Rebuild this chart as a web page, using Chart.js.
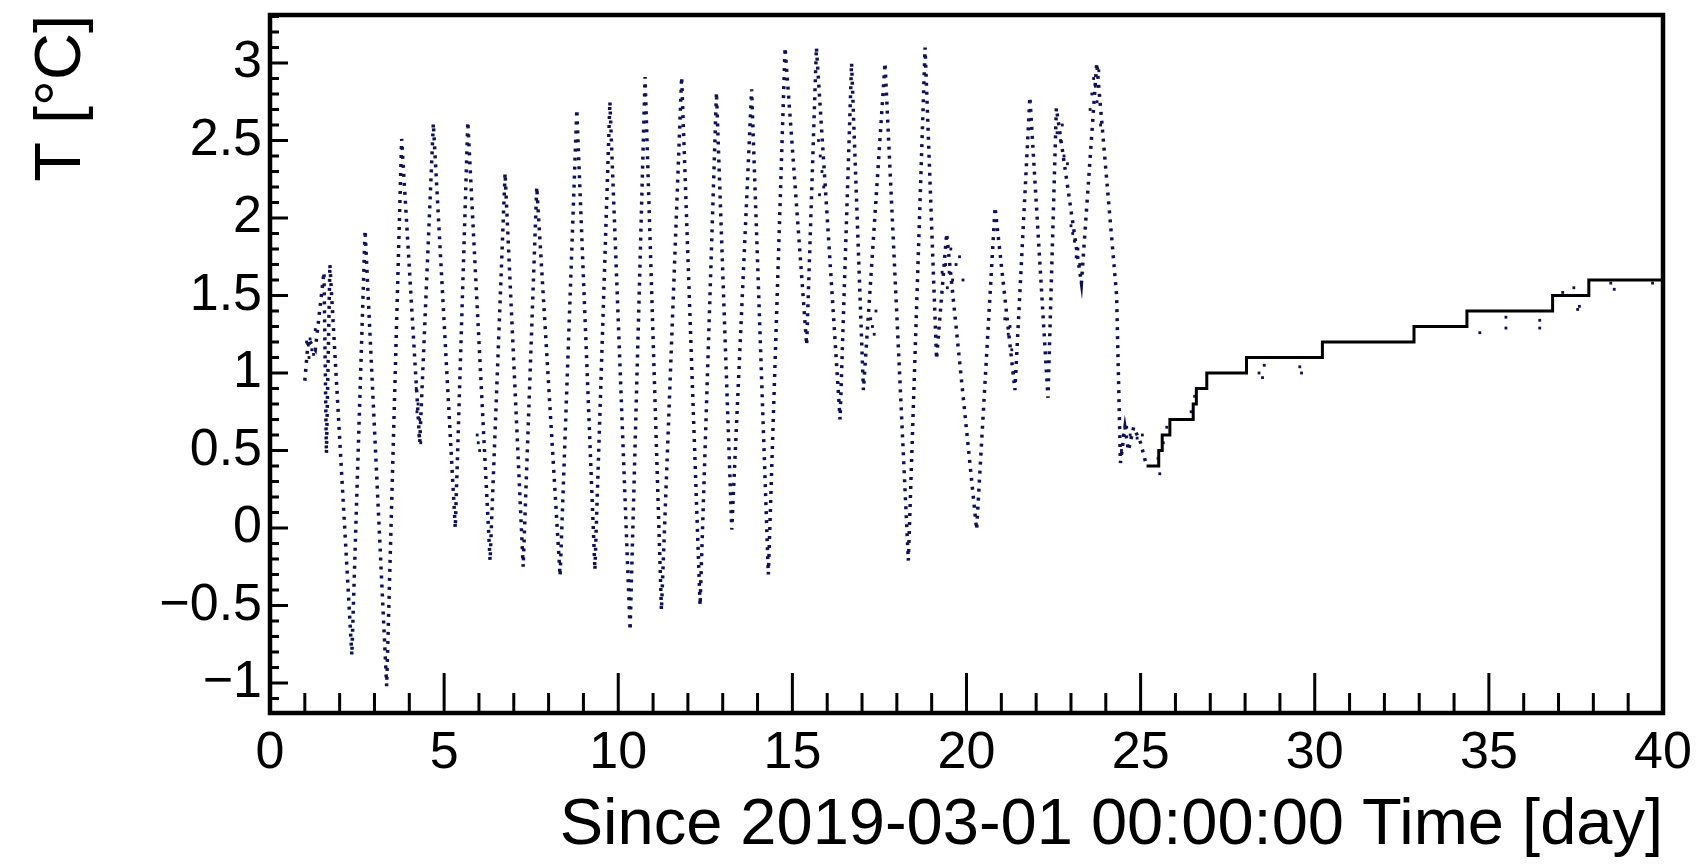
<!DOCTYPE html>
<html>
<head>
<meta charset="utf-8">
<script src="https://cdn.jsdelivr.net/npm/chart.js@4.4.1/dist/chart.umd.min.js"></script>
<style>
  html, body { margin: 0; padding: 0; background: #ffffff; }
  #wrap { width: 1700px; height: 865px; position: relative; }
</style>
</head>
<body>
<div id="wrap"><canvas id="c"></canvas></div>
<script>
// ---- data ----
// daily oscillation (turning points of the temperature record)
const oscDays  = [1.00, 1.10, 1.30, 1.55, 1.62, 1.72, 2.35, 2.73, 3.35, 3.78, 4.30, 4.69, 5.32, 5.68, 6.32, 6.75, 7.27, 7.66, 8.33, 8.81, 9.33, 9.76, 10.34, 10.77, 11.24, 11.82, 12.35, 12.82, 13.26, 13.83, 14.31, 14.79, 15.41, 15.69, 16.37, 16.70, 17.04, 17.66, 18.33, 18.81, 19.14, 19.43, 20.29, 20.82, 21.39, 21.82, 22.34, 22.58, 23.30, 23.74, 24.31, 24.42, 24.55, 24.65, 24.80, 25.00, 25.17];
const oscTemps = [0.95, 1.22, 1.15, 1.65, 0.48, 1.70, -0.82, 1.92, -1.02, 2.51, 0.55, 2.61, 0.00, 2.62, -0.21, 2.29, -0.25, 2.20, -0.31, 2.70, -0.27, 2.75, -0.66, 2.91, -0.53, 2.91, -0.50, 2.81, -0.01, 2.83, -0.30, 3.10, 1.18, 3.10, 0.70, 3.00, 0.89, 3.00, -0.21, 3.10, 1.09, 1.90, -0.01, 2.07, 0.89, 2.78, 0.84, 2.71, 1.58, 3.00, 1.50, 0.42, 0.65, 0.50, 0.65, 0.55, 0.40];

// later, slowly rising part (0.1 degree steps)
const stepDays  = [25.17, 25.52, 25.62, 25.84, 26.51, 26.60, 26.90, 28.04, 30.22, 32.85, 34.37, 36.83, 37.87, 39.95];
const stepTemps = [0.40, 0.50, 0.60, 0.70, 0.80, 0.90, 1.00, 1.10, 1.20, 1.30, 1.40, 1.50, 1.60, 1.60];

// dense clusters / stray readings
const clusterDays  = [1.05, 1.10, 1.12, 1.15, 1.20, 1.25, 1.30, 4.20, 4.22, 4.25, 4.28, 4.30, 4.33, 5.95, 5.98, 6.02, 15.75, 15.80, 15.85, 15.90, 15.78, 17.25, 17.30, 17.35, 17.40, 19.30, 19.40, 19.45, 19.50, 19.55, 19.60, 19.70, 19.80, 19.90, 21.10, 21.20, 21.25, 21.30, 21.35, 21.40, 22.60, 22.70, 22.75, 22.80, 22.90, 23.00, 23.05, 23.10, 23.15, 23.20, 23.25, 23.55, 23.60, 23.65, 23.70, 23.75, 23.80, 23.85, 24.45, 24.50, 24.60, 24.70, 24.90, 25.05, 25.50, 25.55, 25.65, 25.75, 26.45, 26.55, 28.40, 28.50, 28.55, 29.57, 29.62, 34.74, 35.49, 35.49, 36.46, 36.46, 37.12, 37.44, 37.55, 37.60, 38.50, 38.60, 39.70];
const clusterTemps = [1.20, 1.18, 1.10, 1.22, 1.15, 1.12, 1.28, 0.90, 0.75, 0.80, 0.60, 0.70, 0.55, 0.60, 0.55, 0.50, 2.50, 2.40, 2.30, 2.20, 2.15, 1.35, 1.30, 1.25, 1.40, 1.65, 1.70, 1.55, 1.65, 1.80, 1.60, 1.70, 1.75, 1.60, 1.35, 1.25, 1.30, 1.15, 1.00, 0.95, 2.55, 2.50, 2.60, 2.40, 2.35, 1.95, 1.90, 1.85, 1.75, 1.80, 1.70, 2.70, 2.80, 2.90, 2.85, 2.75, 2.95, 2.60, 0.50, 0.60, 0.65, 0.60, 0.58, 0.60, 0.45, 0.35, 0.55, 0.65, 0.75, 0.85, 1.00, 0.97, 1.05, 1.04, 1.00, 1.26, 1.36, 1.29, 1.34, 1.29, 1.52, 1.55, 1.41, 1.43, 1.58, 1.54, 1.58];

// axes
const xTickValues = [0, 5, 10, 15, 20, 25, 30, 35, 40];
const yTickValues = [-1, -0.5, 0, 0.5, 1, 1.5, 2, 2.5, 3];
const yTickLabels = ['\u22121', '\u22120.5', '0', '0.5', '1', '1.5', '2', '2.5', '3'];
const xTitle = 'Since 2019-03-01 00:00:00 Time [day]';
const yTitle = 'T [\u00b0C]';

const pts = (xs, ys) => xs.map((v, i) => ({ x: v, y: ys[i] }));
const FONT = "'Liberation Sans', Arial, Helvetica, sans-serif";
const MARK = 'rgb(16,16,84)';

const frameTicks = {
  id: 'frameTicks',
  afterDraw(chart) {
    const { ctx, chartArea: a, scales: { x, y } } = chart;
    ctx.save();
    ctx.strokeStyle = '#000';
    ctx.lineWidth = 3;
    ctx.beginPath();
    for (let d = Math.ceil(x.min); d <= x.max; d++) {
      const px = x.getPixelForValue(d);
      const len = d % 5 === 0 ? 40 : 20;
      ctx.moveTo(px, a.bottom);
      ctx.lineTo(px, a.bottom - len);
    }
    for (let k = Math.ceil(y.min * 10); k <= Math.floor(y.max * 10); k++) {
      const py = y.getPixelForValue(k / 10);
      const len = k % 5 === 0 ? 18 : 9;
      ctx.moveTo(a.left, py);
      ctx.lineTo(a.left + len, py);
    }
    ctx.stroke();
    ctx.lineWidth = 4.5;
    ctx.strokeRect(a.left, a.top, a.right - a.left, a.bottom - a.top);
    ctx.restore();
  }
};

new Chart(document.getElementById('c'), {
  type: 'scatter',
  data: {
    datasets: [
      {
        label: 'T oscillating',
        data: pts(oscDays, oscTemps),
        showLine: true,
        borderColor: MARK,
        borderWidth: 3.5,
        borderDash: [3, 6],
        borderCapStyle: 'butt',
        pointRadius: 0,
        tension: 0
      },
      {
        label: 'T steps',
        data: pts(stepDays, stepTemps),
        showLine: true,
        stepped: true,
        borderColor: '#000',
        borderWidth: 3,
        pointRadius: 0
      },
      {
        label: 'T clusters',
        data: pts(clusterDays, clusterTemps),
        showLine: false,
        pointStyle: 'rect',
        pointRadius: 2,
        pointBorderWidth: 0,
        backgroundColor: MARK,
        borderColor: MARK
      }
    ]
  },
  options: {
    responsive: true,
    maintainAspectRatio: false,
    animation: false,
    layout: { padding: { left: 0, top: 15, right: 37, bottom: 0 } },
    plugins: { legend: { display: false }, tooltip: { enabled: false } },
    scales: {
      x: {
        type: 'linear',
        min: 0,
        max: 40,
        afterBuildTicks: (s) => { s.ticks = xTickValues.map(v => ({ value: v })); },
        afterFit: (s) => { s.height = 152; s.paddingLeft = 0; s.paddingRight = 0; },
        grid: { display: false, drawTicks: false },
        border: { display: false },
        ticks: {
          color: '#000',
          padding: 9,
          maxRotation: 0,
          autoSkip: false,
          font: { family: FONT, size: 52, lineHeight: 1.2 },
          callback: (v) => String(v)
        },
        title: {
          display: true,
          text: xTitle,
          align: 'end',
          color: '#000',
          font: { family: FONT, size: 65, lineHeight: 1.2 },
          padding: { top: 0, bottom: 0 }
        }
      },
      y: {
        type: 'linear',
        min: -1.1935,
        max: 3.3097,
        afterBuildTicks: (s) => { s.ticks = yTickValues.map(v => ({ value: v })); },
        afterFit: (s) => { s.width = 270; s.paddingTop = 0; s.paddingBottom = 0; },
        grid: { display: false, drawTicks: false },
        border: { display: false },
        ticks: {
          color: '#000',
          padding: 8,
          autoSkip: false,
          font: { family: FONT, size: 52, lineHeight: 1.2 },
          callback: (v) => { const i = yTickValues.indexOf(v); return i >= 0 ? yTickLabels[i] : ''; }
        },
        title: {
          display: true,
          text: yTitle,
          align: 'end',
          color: '#000',
          font: { family: FONT, size: 65, lineHeight: 1.2 },
          padding: { top: 23, bottom: 0 }
        }
      }
    }
  },
  plugins: [frameTicks]
});
</script>
</body>
</html>
